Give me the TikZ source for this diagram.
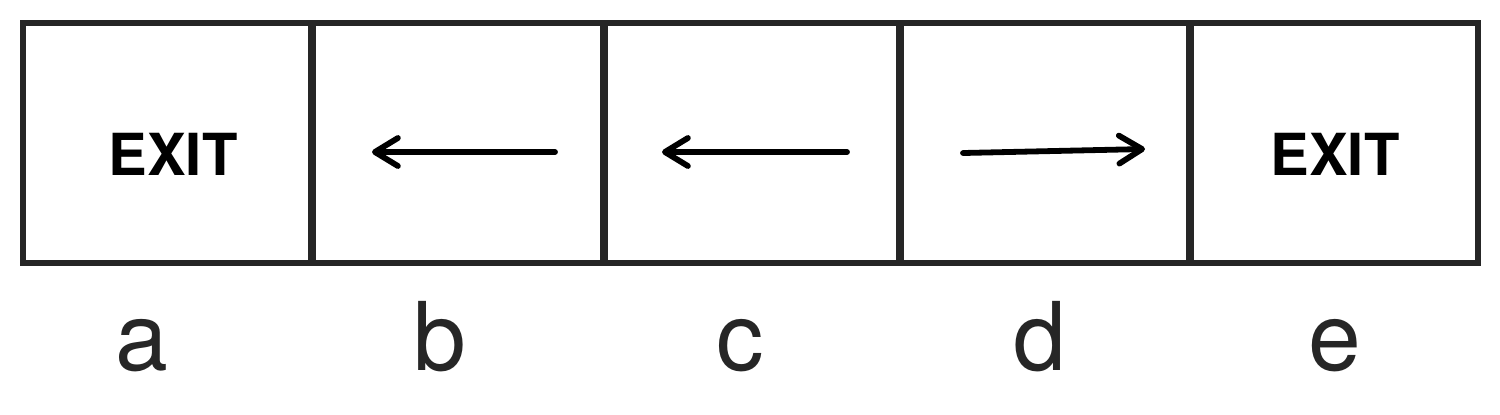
\documentclass[tikz,border=0pt]{standalone}
\usepackage{fontspec}
\setmainfont{TeX Gyre Heros}
\usetikzlibrary{arrows.meta}
\begin{document}
\begin{tikzpicture}[x=0.02cm, y=-0.02cm,
        frame/.style={draw=black!85, line width=3.3pt},
        wall/.style={draw=black!85, line width=4.2pt},
        exitsign/.style={font=\bfseries\fontsize{33}{33}\selectfont, anchor=base, inner sep=0pt},
        letter/.style={font=\fontsize{54}{54}\selectfont, text=black!85, anchor=base, inner sep=0pt},
        move/.style={line width=3.3pt, line cap=round, -{Straight Barb[length=0.46cm, width=0.56cm, line width=3.3pt, round]}}]
    \useasboundingbox (0,0) rectangle (1500,414);
    \draw[frame] (23,23) rectangle (1478,263);
    \foreach \x in {312,604,900,1190} \draw[wall] (\x,23) -- (\x,263);
    \node[exitsign] (exitA) at (173,175) {EXIT};
    \node[exitsign] (exitE) at (1335,175) {EXIT};
    \coordinate (bR) at (555,152); \coordinate (bL) at (372,152);
    \coordinate (cR) at (847,152); \coordinate (cL) at (662,152);
    \coordinate (dL) at (963,153); \coordinate (dR) at (1145,149);
    \draw[move] (bR) -- (bL);
    \draw[move] (cR) -- (cL);
    \draw[move] (dL) -- (dR);
    \foreach \x/\l in {142/a,440/b,740/c,1040/d,1335/e}
        \node[letter] (lab\l) at (\x,370) {\l};
\end{tikzpicture}
\end{document}
